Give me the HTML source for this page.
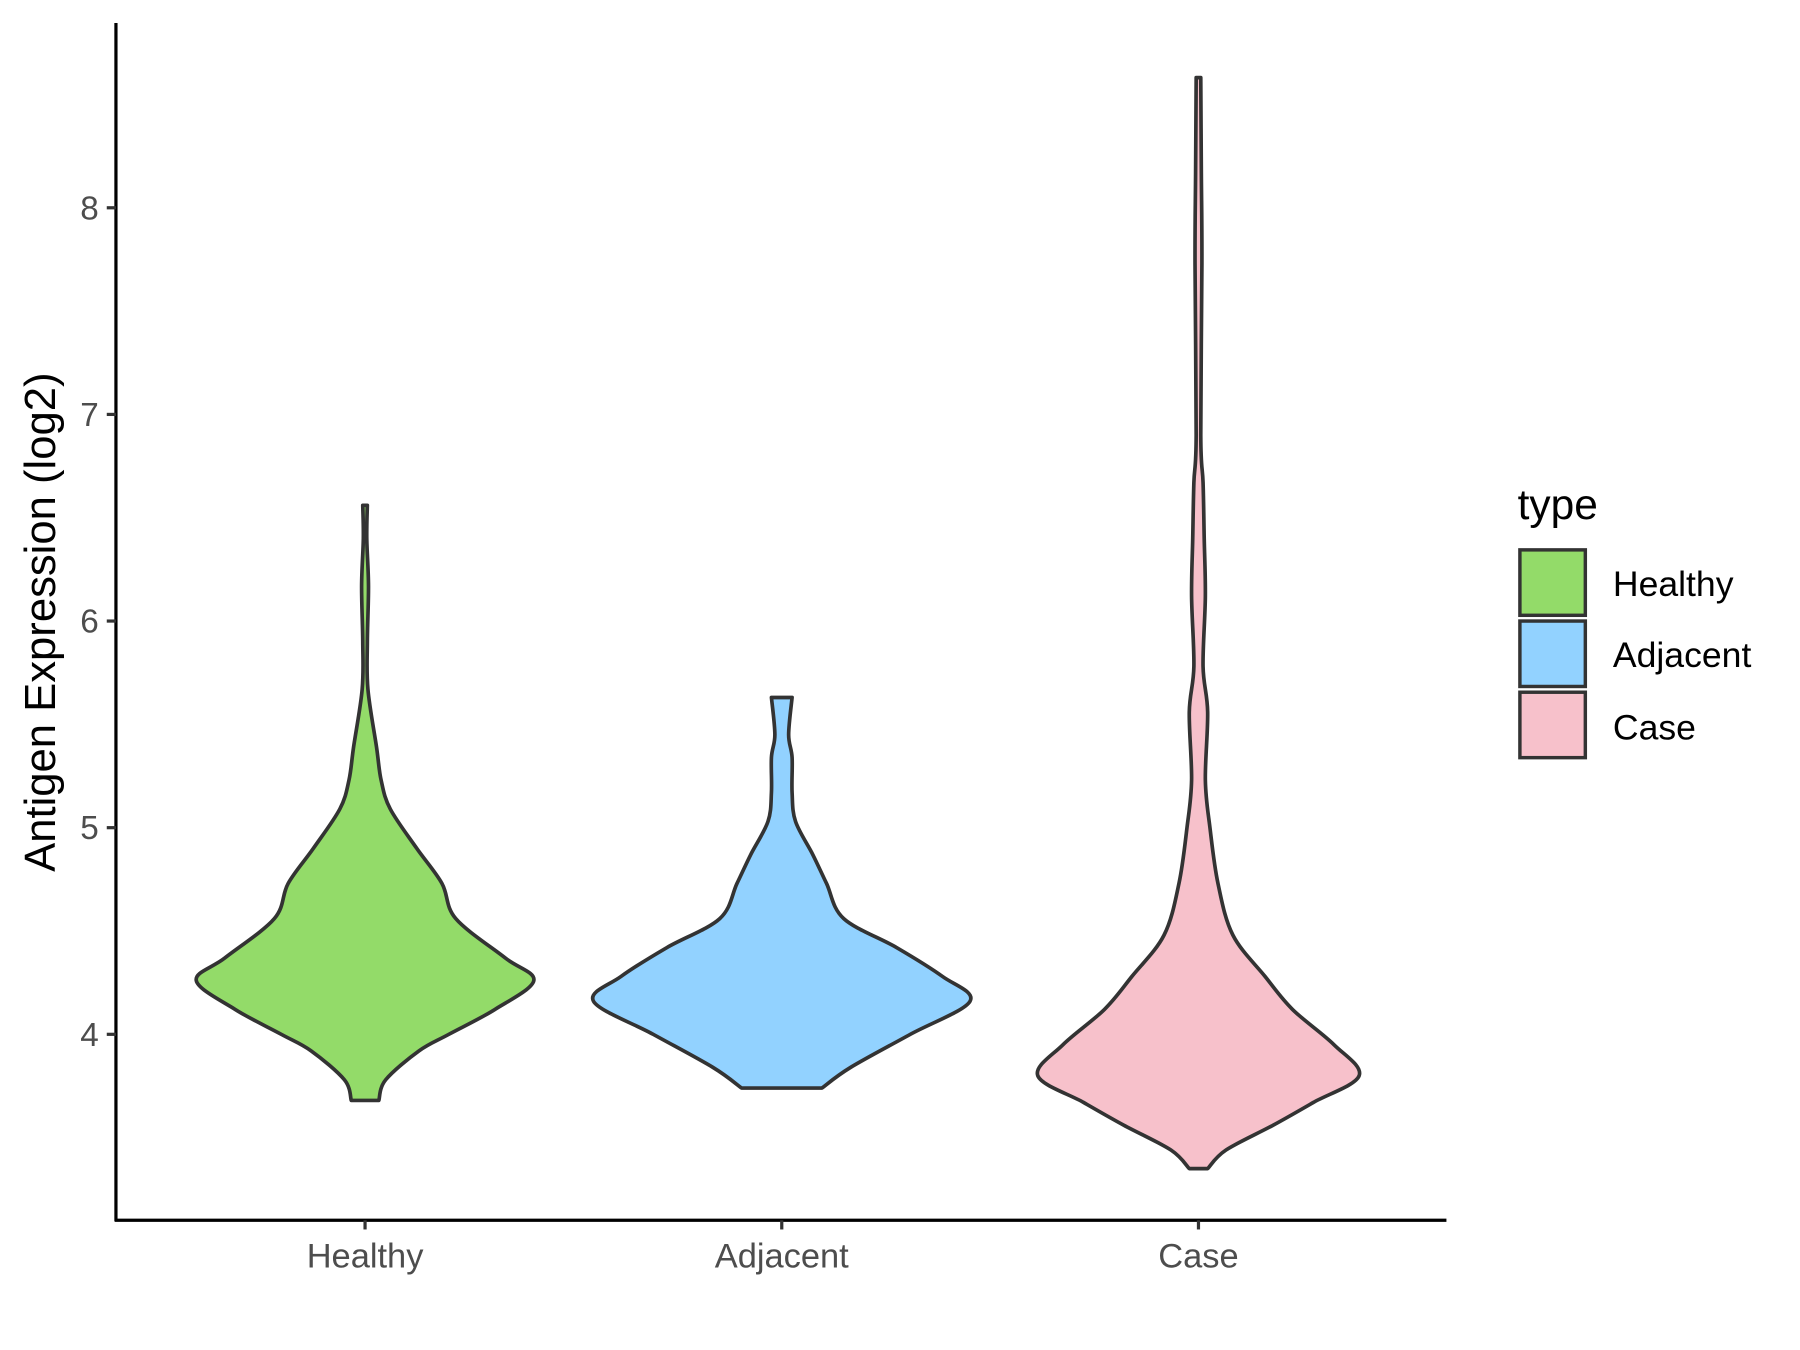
<!DOCTYPE html>
<html><head><meta charset="utf-8"><style>
html,body{margin:0;padding:0;background:#fff;}
svg{display:block;font-family:"Liberation Sans",Arial,sans-serif;}
</style></head><body>
<svg id="chart" width="1800" height="1350" viewBox="0 0 1568 1176" preserveAspectRatio="none" xmlns="http://www.w3.org/2000/svg">
<rect width="1568" height="1176" fill="#fff"/>
<g id="violins"></g>
<g id="axes"></g>
<text transform="translate(48,542) rotate(-90)" text-anchor="middle" font-size="38" fill="#000">Antigen Expression (log2)</text>
<g>
<text x="1322" y="452" font-size="37" fill="#000">type</text>
<rect x="1324" y="479" width="57" height="57" fill="#93DB69" stroke="#333" stroke-width="3"/>
<text x="1405" y="519" font-size="31" fill="#000">Healthy</text>
<rect x="1324" y="541" width="57" height="57" fill="#92D2FF" stroke="#333" stroke-width="3"/>
<text x="1405" y="581" font-size="31" fill="#000">Adjacent</text>
<rect x="1324" y="603" width="57" height="57" fill="#F7C1CB" stroke="#333" stroke-width="3"/>
<text x="1405" y="644" font-size="31" fill="#000">Case</text>
</g>
</svg>
<script>
const categories = ["Healthy", "Adjacent", "Case"];
const yTicks = [4, 5, 6, 7, 8];
const healthyValues = [3.68, 3.78, 3.92, 4.0, 4.12, 4.26, 4.37, 4.56, 4.73, 4.9, 5.09, 5.23, 5.39, 5.67, 5.9, 6.17, 6.4, 6.56];
const healthyDensity = [12, 18, 47, 73, 113, 147, 122, 79, 67, 45, 22, 14, 10, 2.5, 2, 3, 1.5, 2];
const adjacentValues = [3.74, 3.84, 4.0, 4.16, 4.28, 4.42, 4.56, 4.73, 4.87, 5.03, 5.17, 5.34, 5.45, 5.63];
const adjacentDensity = [35, 60, 112, 164, 140, 100, 54, 39, 27, 12, 9, 9, 6, 9];
const caseValues = [3.35, 3.44, 3.56, 3.67, 3.8, 3.95, 4.12, 4.28, 4.48, 4.73, 5.0, 5.23, 5.56, 5.78, 6.12, 6.4, 6.67, 6.9, 7.73, 8.17, 8.63];
const caseDensity = [8, 24, 65, 100, 140, 118, 82, 58, 30, 17, 10, 6, 8, 4, 6, 5, 4, 2, 3, 2.5, 2];
const fills = ["#93DB69", "#92D2FF", "#F7C1CB"];

const yScale = v => 901 - (v - 4) * 180;
const xScale = i => 318 + i * 363;
const NS = "http://www.w3.org/2000/svg";

function smoothPts(pts){
  let d = "";
  for (let i = 0; i < pts.length - 1; i++) {
    const p0 = pts[Math.max(0,i-1)], p1 = pts[i], p2 = pts[i+1], p3 = pts[Math.min(pts.length-1,i+2)];
    const c1x = p1[0] + (p2[0]-p0[0])/6, c1y = p1[1] + (p2[1]-p0[1])/6;
    const c2x = p2[0] - (p3[0]-p1[0])/6, c2y = p2[1] - (p3[1]-p1[1])/6;
    d += ` C${c1x},${c1y} ${c2x},${c2y} ${p2[0]},${p2[1]}`;
  }
  return d;
}
const vg = document.getElementById("violins");
const series = [[healthyValues, healthyDensity],[adjacentValues, adjacentDensity],[caseValues, caseDensity]];
series.forEach((s, i) => {
  const cx = xScale(i);
  const right = s[0].map((v, k) => [cx + s[1][k], yScale(v)]);
  const left = s[0].map((v, k) => [cx - s[1][k], yScale(v)]).reverse();
  let d = `M${right[0][0]},${right[0][1]}` + smoothPts(right) + ` L${left[0][0]},${left[0][1]}` + smoothPts(left) + " Z";
  const p = document.createElementNS(NS, "path");
  p.setAttribute("d", d);
  p.setAttribute("fill", fills[i]);
  p.setAttribute("stroke", "#333");
  p.setAttribute("stroke-width", "3.2");
  p.setAttribute("stroke-linejoin", "round");
  
  
  vg.appendChild(p);
});
const ag = document.getElementById("axes");
function el(tag, attrs, text){
  const e = document.createElementNS(NS, tag);
  for (const k in attrs) e.setAttribute(k, attrs[k]);
  if (text !== undefined) e.textContent = text;
  ag.appendChild(e);
  return e;
}
const yl = el("line", {x1:101, y1:20, x2:101, y2:1064, stroke:"#000", "stroke-width":2.8});


const xl = el("line", {x1:100, y1:1063, x2:1260, y2:1063, stroke:"#000", "stroke-width":2.8});


yTicks.forEach(t => {
  const tk = el("line", {x1:93, y1:yScale(t), x2:101, y2:yScale(t), stroke:"#333", "stroke-width":2.8});
  
  
  const lb = el("text", {x:86, y:yScale(t)+10, "text-anchor":"end", "font-size":29, fill:"#4d4d4d"}, String(t));
  
  
});
categories.forEach((c, i) => {
  const tk = el("line", {x1:xScale(i), y1:1063, x2:xScale(i), y2:1071, stroke:"#333", "stroke-width":2.8});
  
  
  const lb = el("text", {x:xScale(i), y:1104, "text-anchor":"middle", "font-size":30, fill:"#4d4d4d"}, c);
  
  
});
</script>
</body></html>
